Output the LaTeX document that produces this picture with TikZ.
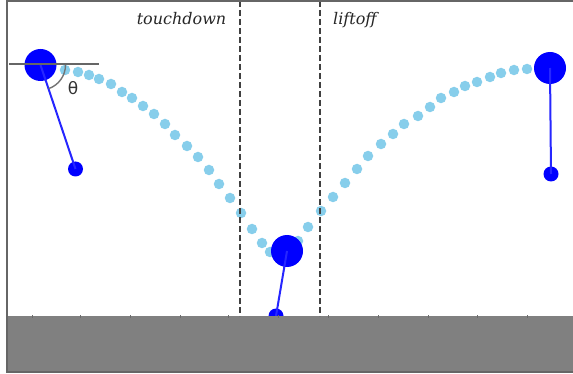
\documentclass[tikz,border=0pt]{standalone}
\usepackage{fontspec}
\newfontfamily\dejavu{DejaVu Sans}
\newfontfamily\lblfont{DejaVu Serif}
\begin{document}
\begin{tikzpicture}[x=1pt,y=-1pt,
  trail/.style={circle,fill=trailblue,inner sep=0pt,minimum size=10.5pt},
  body/.style={circle,fill=blue,inner sep=0pt,minimum size=32pt},
  foot/.style={circle,fill=blue,inner sep=0pt,minimum size=15pt},
  leg/.style={blue!85!white,line width=2pt},
  phase/.style={dash pattern=on 6pt off 3pt,line width=1.8pt,draw=black!75},
  lbl/.style={font=\lblfont\fontsize{16}{18}\selectfont\itshape,text=black!85,inner sep=0pt}]
\definecolor{trailblue}{HTML}{87CEEB}
\useasboundingbox (0,0) rectangle (573,374);
\fill[white] (0,0) rectangle (573,374);
% trajectory dots
\foreach \px/\py in {65/70,78/72,89/75,99/79,111/84,122/92,132/98,143/106,154/114,165/124,175/135,187/146,198/157,209/170,219/184,230/198,241/213,252/229,262/243,270/252,298/241,308/227,321/211,333/197,345/183,357/169,368/156,381/144,393/134,404/124,418/116,430/107,441/98,454/92,465/86,477/82,490/77,501/73,514/70,527/69}
  \node[trail] at (\px,\py) {};
% left pose
\node[body] (b1) at (40.5,65) {};
\node[foot] (f1) at (75.5,169) {};
\draw[leg] (b1.center) -- (f1.center);
\draw[black!60,line width=1.4pt] (9,64) -- (99,64);
\draw[black!55,line width=1.4pt] ([shift={(0:25)}]b1.center) arc[start angle=0,end angle=71,radius=25];
\node[font=\dejavu\fontsize{17}{18}\selectfont,text=black!80,inner sep=0pt] (th) at (73,88) {θ};
% middle pose
\node[foot] (f2) at (276,316) {};
\node[body] (b2) at (287,251) {};
\draw[leg] (b2.center) -- (f2.center);
% right pose
\node[body] (b3) at (550,68) {};
\node[foot] (f3) at (551,174) {};
\draw[leg] (b3.center) -- (f3.center);
% ground
\fill[black!50] (7,316) rectangle (573,372);
\foreach \tx in {32,80,130,180,228,278,328,378,428,477,527}
  \draw[black!58,line width=1pt] (\tx,315) -- (\tx,317.5);
% phase lines
\coordinate (td0) at (240,1);
\coordinate (td1) at (240,316);
\coordinate (lo0) at (320,1);
\coordinate (lo1) at (320,316);
\draw[phase] (td0) -- (td1);
\draw[phase] (lo0) -- (lo1);
\node[lbl,anchor=base east] (tdl) at (226.5,25) {touchdown};
\node[lbl,anchor=base west] (lol) at (333,25) {liftoff};
% frame
\draw[black!60,line width=1.2pt] (573,1) -- (7,1) -- (7,372) -- (573,372);
\end{tikzpicture}
\end{document}
